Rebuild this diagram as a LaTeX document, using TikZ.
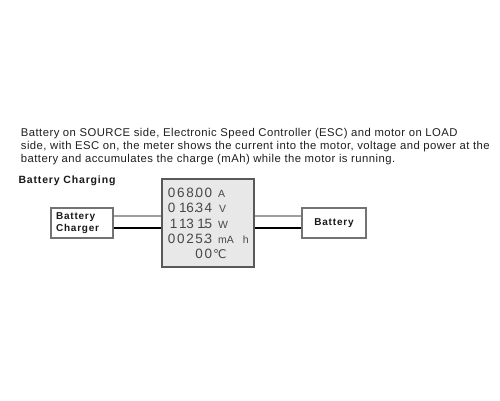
\documentclass[tikz,border=0pt]{standalone}
\usepackage{fontspec}
\setmainfont{Liberation Sans}
\newfontfamily\parafont[LetterSpace=4]{Liberation Sans}
\newfontfamily\spfont[LetterSpace=8]{Liberation Sans}
\newfontfamily\segfont{Liberation Sans}
\newfontfamily\symfont{DejaVu Sans}
\newlength\pitch \setlength\pitch{9.2pt}
\newcommand\dc[1]{\makebox[\pitch][r]{#1}}
\newcommand\one{\makebox[\pitch][r]{1\kern-2pt}}
\newcommand\dpt{\rlap{\kern0.2pt.}}
\newcommand\unitf{\fontsize{10.5}{11}\selectfont}
\begin{document}
\begin{tikzpicture}[x=1pt,y=-1pt,
  para/.style={anchor=base west, inner sep=0pt, text=black!88, font=\parafont\fontsize{11.3}{13}\selectfont},
  head/.style={anchor=base west, inner sep=0pt, text=black!90, font=\spfont\bfseries\fontsize{10.5}{12}\selectfont},
  boxnode/.style={draw=black!55, line width=1.2pt, fill=white, minimum height=30pt, inner sep=0pt, text=black!90, font=\spfont\bfseries\fontsize{10}{11.7}\selectfont},
  meterbox/.style={draw=black!65, line width=1.2pt, fill=black!9, minimum width=92pt, minimum height=88pt, inner sep=0pt},
  seg/.style={anchor=base west, inner sep=0pt, text=black!72, font=\segfont\fontsize{13.5}{14}\selectfont},
  wireg/.style={draw=black!38, line width=1.3pt},
  wirek/.style={draw=black, line width=1.6pt}]
\useasboundingbox (0,0) rectangle (500,400);
\fill[white] (0,0) rectangle (500,400);

\node[para] (p1) at (20.7,136.7) {Battery on SOURCE side, Electronic Speed Controller (ESC) and motor on LOAD};
\node[para] (p2) at (20.7,149.7) {side, with ESC on, the meter shows the current into the motor, voltage and power at the};
\node[para] (p3) at (20.7,162.3) {battery and accumulates the charge (mAh) while the motor is running.};
\node[head] (title) at (18.3,183.5) {Battery Charging};

\node[boxnode, text width=52pt, inner xsep=5pt, align=left] (charger) at (82,223) {Battery\\Charger};
\node[boxnode, minimum width=64pt] (battery) at (334,223) {Battery};
\node[meterbox] (meter) at (208,223) {};

\node[seg] (r1) at (166,197) {\dc{0}\dc{6}\dc{8}\dpt\dc{0}\dc{0}\hspace{6pt}{\unitf A}};
\node[seg] (r2) at (166,212) {\dc{0}\one\dc{6}\dpt\dc{3}\dc{4}\hspace{7pt}{\unitf V}};
\node[seg] (r3) at (166,228) {\one\one\dc{3}\one\dpt\dc{5}\hspace{6pt}{\unitf W}};
\node[seg] (r4) at (166,243) {\dc{0}\dc{0}\dc{2}\dc{5}\dpt\dc{3}\hspace{6pt}{\unitf mA\hspace{9pt}h}};
\node[seg] (r5) at (166,258) {\hspace{3\pitch}\dc{0}\dc{0}\hspace{1pt}{\symfont\fontsize{12}{13}\selectfont ℃}};

\coordinate (cg) at ([yshift=7pt]charger.east);
\coordinate (ck) at ([yshift=-5pt]charger.east);
\coordinate (bg) at ([yshift=7pt]battery.west);
\coordinate (bk) at ([yshift=-5pt]battery.west);
\draw[wireg] (cg) -- (cg -| meter.west);
\draw[wirek] (ck) -- (ck -| meter.west);
\draw[wireg] (meter.east |- bg) -- (bg);
\draw[wirek] (meter.east |- bk) -- (bk);
\end{tikzpicture}
\end{document}
